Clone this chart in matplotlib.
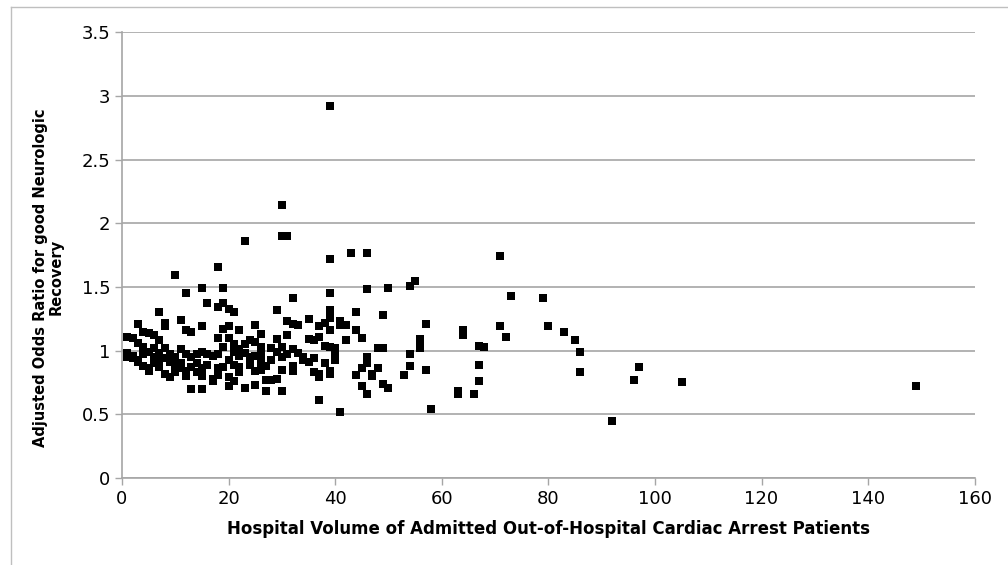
import matplotlib
matplotlib.use("Agg")
import matplotlib.pyplot as plt
from matplotlib.lines import Line2D

# hospital volume (x) and adjusted odds ratio (y)
volume = [
    1, 1, 1, 2, 2, 2, 3, 3, 3, 3, 4, 4, 4, 4, 5, 5, 5, 5, 6, 6, 6, 6,
    7, 7, 7, 7, 7, 8, 8, 8, 8, 8, 9, 9, 9, 10, 10, 10, 10, 11, 11, 11, 11,
    12, 12, 12, 12, 12, 13, 13, 13, 13, 14, 14, 14, 15, 15, 15, 15, 15, 15,
    16, 16, 16, 17, 17, 17, 18, 18, 18, 18, 18, 18, 19, 19, 19, 19, 19,
    20, 20, 20, 20, 20, 20, 21, 21, 21, 21, 21, 22, 22, 22, 22, 22,
    23, 23, 23, 23, 24, 24, 24, 25, 25, 25, 25, 25, 26, 26, 26, 26, 26,
    27, 27, 27, 28, 28, 28, 29, 29, 29, 29, 30, 30, 30, 30, 30, 30,
    31, 31, 31, 31, 32, 32, 32, 32, 32, 33, 33, 34, 34, 35, 35, 35,
    36, 36, 36, 37, 37, 37, 37, 37, 38, 38, 38,
    39, 39, 39, 39, 39, 39, 39, 39, 39, 39, 40, 40, 40, 41, 41, 41, 42, 42,
    43, 44, 44, 44, 45, 45, 45, 46, 46, 46, 46, 46, 47, 47, 48, 48,
    49, 49, 49, 50, 50, 53, 54, 54, 54, 55, 56, 56, 56, 57, 57, 58,
    63, 63, 64, 64, 66, 67, 67, 67, 68, 71, 71, 72, 73, 79, 80, 83, 85,
    86, 86, 92, 96, 97, 105, 149,
]
odds_ratio = [
    1.11, 0.98, 0.95, 1.10, 0.96, 0.94, 1.21, 1.06, 0.93, 0.91,
    1.15, 1.03, 0.97, 0.88, 1.14, 0.99, 0.86, 0.84, 1.12, 1.02, 0.95, 0.90,
    1.30, 1.08, 0.98, 0.92, 0.87, 1.22, 1.19, 1.02, 0.94, 0.82,
    0.97, 0.91, 0.79, 1.59, 0.95, 0.89, 0.83, 1.24, 1.01, 0.90, 0.86,
    1.45, 1.16, 0.97, 0.84, 0.80, 1.15, 0.95, 0.87, 0.70, 0.97, 0.90, 0.83,
    1.49, 1.19, 0.99, 0.86, 0.80, 0.70, 1.37, 0.97, 0.89, 0.96, 0.78, 0.76,
    1.66, 1.34, 1.10, 0.97, 0.86, 0.81, 1.49, 1.37, 1.17, 1.03, 0.87,
    1.33, 1.19, 1.10, 0.93, 0.79, 0.72, 1.30, 1.05, 0.99, 0.89, 0.76,
    1.16, 1.01, 0.96, 0.87, 0.83, 1.86, 1.05, 0.98, 0.71, 1.08, 0.95, 0.89,
    1.20, 1.07, 0.96, 0.84, 0.73, 1.13, 1.03, 0.97, 0.91, 0.85,
    0.88, 0.77, 0.68, 1.02, 0.93, 0.77, 1.32, 1.09, 0.99, 0.78,
    2.14, 1.90, 1.03, 0.95, 0.85, 0.68, 1.90, 1.23, 1.12, 0.97,
    1.41, 1.21, 1.01, 0.88, 0.84, 1.20, 0.98, 0.95, 0.93, 1.25, 1.09, 0.91,
    1.08, 0.94, 0.83, 1.19, 1.11, 0.82, 0.79, 0.61, 1.22, 1.04, 0.90,
    2.92, 1.72, 1.45, 1.32, 1.29, 1.26, 1.16, 1.03, 0.84, 0.82,
    1.02, 0.99, 0.93, 1.23, 1.20, 0.52, 1.20, 1.08,
    1.77, 1.30, 1.16, 0.81, 1.10, 0.86, 0.72, 1.77, 1.48, 0.95, 0.90, 0.66,
    0.82, 0.80, 1.02, 0.86, 1.28, 1.02, 0.74, 1.49, 0.71,
    0.81, 1.51, 0.97, 0.88, 1.55, 1.09, 1.05, 1.02, 1.21, 0.85, 0.54,
    0.68, 0.66, 1.16, 1.12, 0.66, 1.04, 0.89, 0.76, 1.03, 1.74, 1.19, 1.11,
    1.43, 1.41, 1.19, 1.15, 1.08, 0.99, 0.83, 0.45, 0.77, 0.87, 0.75, 0.72,
]

x_ticks = [0, 20, 40, 60, 80, 100, 120, 140, 160]
y_ticks = [0, 0.5, 1, 1.5, 2, 2.5, 3, 3.5]
y_tick_labels = ["0", "0.5", "1", "1.5", "2", "2.5", "3", "3.5"]

plt.rcParams["font.family"] = ["Liberation Sans Narrow", "DejaVu Sans"]

fig = plt.figure(figsize=(10.08, 5.65), dpi=100)
ax = fig.add_axes([0.121, 0.154, 0.846, 0.789])

ax.scatter(volume, odds_ratio, marker="s", s=38, color="black", zorder=3, linewidths=0)

ax.set_xlim(0, 160)
ax.set_ylim(0, 3.5)
ax.set_xticks(x_ticks)
ax.set_yticks(y_ticks)
ax.set_yticklabels(y_tick_labels)
ax.yaxis.grid(True, color="#a6a6a6", linewidth=1.2)
ax.set_axisbelow(True)

for side in ["top", "right"]:
    ax.spines[side].set_visible(False)
for side in ["left", "bottom"]:
    ax.spines[side].set_color("#a6a6a6")
    ax.spines[side].set_linewidth(1.2)
ax.tick_params(axis="both", colors="#a6a6a6", labelcolor="black", labelsize=13, length=5, width=1)
ax.tick_params(axis="x", pad=4)

ax.set_xlabel("Hospital Volume of Admitted Out-of-Hospital Cardiac Arrest Patients",
              fontsize=12, fontweight="bold", labelpad=8)
ax.set_ylabel("Adjusted Odds Ratio for good Neurologic\nRecovery",
              fontsize=10.5, fontweight="bold", family=["DejaVu Sans"], linespacing=1.05)
ax.yaxis.set_label_coords(-0.068, 0.45)

# thin frame on the left and top of the chart area
fig.add_artist(Line2D([0.011, 0.011], [0.0, 0.988], transform=fig.transFigure,
                      color="#bfbfbf", linewidth=1))
fig.add_artist(Line2D([0.011, 1.0], [0.988, 0.988], transform=fig.transFigure,
                      color="#bfbfbf", linewidth=1))

fig.savefig("out.png", dpi=100)
